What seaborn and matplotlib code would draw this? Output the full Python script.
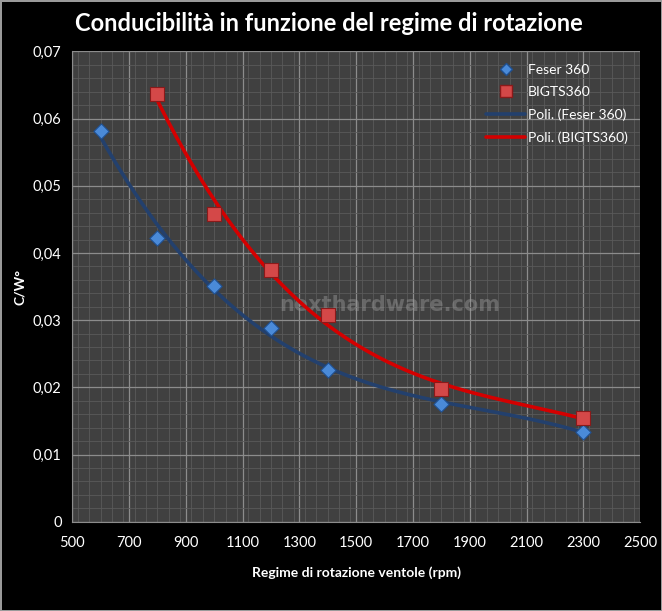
import numpy as np
import pandas as pd
import matplotlib
matplotlib.use("Agg")
import matplotlib.pyplot as plt
from matplotlib.ticker import MultipleLocator, FuncFormatter
from matplotlib.lines import Line2D
import seaborn as sns

# --------------------------------------------
# Data
# --------------------------------------------
feser_rpm = [600, 800, 1000, 1200, 1400, 1800, 2300]
feser_cw = [0.0581, 0.0422, 0.0351, 0.0288, 0.0226, 0.0175, 0.0134]

bigts_rpm = [800, 1000, 1200, 1400, 1800, 2300]
bigts_cw = [0.0636, 0.0458, 0.0375, 0.0307, 0.0197, 0.0155]

x_ticks = [500, 700, 900, 1100, 1300, 1500, 1700, 1900, 2100, 2300, 2500]

feser = pd.DataFrame({"rpm": feser_rpm, "cw": feser_cw})
bigts = pd.DataFrame({"rpm": bigts_rpm, "cw": bigts_cw})


# polynomial trend lines (like Excel "Poli.")
def trend(df, order=3):
    coef = np.polyfit(df["rpm"], df["cw"], order)
    xs = np.linspace(df["rpm"].min(), df["rpm"].max(), 200)
    return pd.DataFrame({"rpm": xs, "cw": np.polyval(coef, xs)})


feser_fit = trend(feser)
bigts_fit = trend(bigts)

# --------------------------------------------
# Style
# --------------------------------------------
sns.set_style("dark")
plt.rcParams["font.family"] = ["Lato", "DejaVu Sans"]

fig = plt.figure(figsize=(6.62, 6.11), dpi=100, facecolor="black",
                 edgecolor="#9a9a9a", linewidth=2)
ax = fig.add_axes([0.109, 0.146, 0.858, 0.770])
ax.set_facecolor("#404040")

blue_line = "#23406d"
red_line = "#d40000"
blue_mark = "#4a8ad8"
red_mark = "#d44848"

sns.lineplot(data=feser_fit, x="rpm", y="cw", color=blue_line, lw=2.6,
             ax=ax, zorder=3)
sns.lineplot(data=bigts_fit, x="rpm", y="cw", color=red_line, lw=2.6,
             ax=ax, zorder=3)
sns.scatterplot(data=feser, x="rpm", y="cw", marker="D", s=60,
                color=blue_mark, edgecolor="#1f4f8f", linewidth=0.8,
                ax=ax, zorder=4)
sns.scatterplot(data=bigts, x="rpm", y="cw", marker="s", s=110,
                color=red_mark, edgecolor="#8a1a1a", linewidth=0.8,
                ax=ax, zorder=4)

ax.set_xlim(500, 2500)
ax.set_ylim(0, 0.07)
ax.set_xticks(x_ticks)
ax.xaxis.set_minor_locator(MultipleLocator(40))
ax.yaxis.set_major_locator(MultipleLocator(0.01))
ax.yaxis.set_minor_locator(MultipleLocator(0.002))
ax.yaxis.set_major_formatter(FuncFormatter(
    lambda v, p: "0" if abs(v) < 1e-9 else f"{v:.2f}".replace(".", ",")))

ax.grid(which="major", color="#8c8c8c", lw=0.9)
ax.grid(which="minor", color="#5a5a5a", lw=0.6)
ax.set_axisbelow(True)
for s in ax.spines.values():
    s.set_visible(False)
ax.spines["left"].set_visible(True)
ax.spines["left"].set_color("#8c8c8c")
ax.spines["bottom"].set_visible(True)
ax.spines["bottom"].set_color("#8c8c8c")

ax.tick_params(axis="both", which="major", colors="white", labelsize=10.5,
               length=4, color="#8c8c8c")
ax.tick_params(axis="both", which="minor", length=0)
ax.tick_params(axis="x", pad=6)

ax.set_xlabel("Regime di rotazione ventole (rpm)", color="white",
              fontsize=10, fontweight="bold", labelpad=12)
ax.set_ylabel("C/W°", color="white", fontsize=10, fontweight="bold",
              labelpad=5)

fig.text(0.497, 0.962, "Conducibilità in funzione del regime di rotazione",
         color="white", fontsize=17, fontweight="bold", ha="center",
         va="center")

# watermark
ax.text(1620, 0.0322, "nexthardware.com", color="#9a9a9a", alpha=0.45,
        fontsize=15, fontweight="bold", family="DejaVu Sans",
        ha="center", va="center", zorder=2)

handles = [
    Line2D([], [], ls="none", marker="D", ms=6.5, color=blue_mark,
           markeredgecolor="#1f4f8f"),
    Line2D([], [], ls="none", marker="s", ms=8.5, color=red_mark,
           markeredgecolor="#8a1a1a"),
    Line2D([], [], color=blue_line, lw=2.6),
    Line2D([], [], color=red_line, lw=2.6),
]
labels = ["Feser 360", "BIGTS360", "Poli. (Feser 360)", "Poli. (BIGTS360)"]
leg = ax.legend(handles, labels, loc="upper right", bbox_to_anchor=(1.0, 1.0),
                frameon=False, labelcolor="white", fontsize=10,
                labelspacing=0.75, handlelength=2.8, handletextpad=0.2)

fig.savefig("out.png", dpi=100, facecolor=fig.get_facecolor(),
            edgecolor=fig.get_edgecolor())
